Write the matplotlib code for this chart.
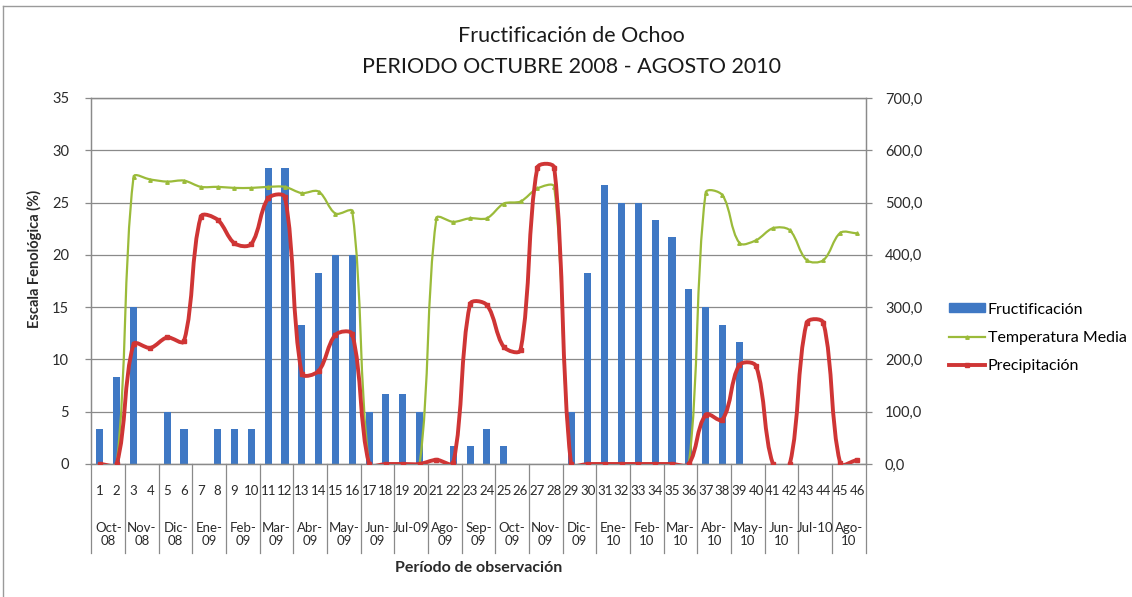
import numpy as np
import matplotlib
matplotlib.use("Agg")
import matplotlib.pyplot as plt
from matplotlib.path import Path
from matplotlib.patches import PathPatch
from matplotlib.lines import Line2D

plt.rcParams['font.family'] = ['Lato', 'DejaVu Sans']

# data
periods = list(range(1, 47))
months = ["Oct-\n08", "Nov-\n08", "Dic-\n08", "Ene-\n09", "Feb-\n09", "Mar-\n09",
          "Abr-\n09", "May-\n09", "Jun-\n09", "Jul-09", "Ago-\n09", "Sep-\n09",
          "Oct-\n09", "Nov-\n09", "Dic-\n09", "Ene-\n10", "Feb-\n10", "Mar-\n10",
          "Abr-\n10", "May-\n10", "Jun-\n10", "Jul-10", "Ago-\n10"]

fructificacion = [3.3, 8.3, 15, 0, 5, 3.3, 0, 3.3, 3.3, 3.3,
                  28.3, 28.3, 13.3, 18.3, 20, 20, 5, 6.7, 6.7, 5,
                  0, 1.7, 1.7, 3.3, 1.7, 0, 0, 0, 5, 18.3,
                  26.7, 25, 25, 23.3, 21.7, 16.7, 15, 13.3, 11.7, 0,
                  0, 0, 0, 0, 0, 0]

temperatura = [0, 0, 549, 544, 540, 542, 530, 530, 528, 528,
               530, 530, 518, 521, 479, 483, 0, 0, 0, 0,
               470, 463, 470, 470, 498, 502, 527, 530, 0, 0,
               0, 0, 0, 0, 0, 0, 519, 514, 423, 428,
               451, 447, 390, 390, 442, 441]

precipitacion = [0, 0, 229, 222, 242, 235, 473, 467, 422, 421,
                 508, 510, 173, 178, 247, 248, 0, 0, 0, 0,
                 8, 2, 306, 304, 224, 218, 567, 567, 0, 0,
                 0, 0, 0, 0, 0, 0, 94, 85, 189, 187,
                 0, 0, 270, 270, 1, 8]

left_ticks = [0, 5, 10, 15, 20, 25, 30, 35]
right_ticks = [0, 100, 200, 300, 400, 500, 600, 700]

BLUE = '#3f78c4'
GREEN = '#9bbb3a'
RED = '#cf3535'
GRID = '#8a8a8a'
TXT = '#2a2a2a'


def smooth_path(axis, xs, ys, s=0.3):
    # excel-like smoothed line, control points worked out in screen space
    tr = axis.transData
    pts = tr.transform(np.column_stack([xs, ys]).astype(float))
    n = len(pts)
    verts = [pts[0]]
    codes = [Path.MOVETO]

    def tangent(i):
        a = pts[max(i - 1, 0)]
        b = pts[min(i + 1, n - 1)]
        d = b - a
        ln = np.hypot(*d)
        return d / ln if ln > 0 else d

    for i in range(n - 1):
        p1, p2 = pts[i], pts[i + 1]
        seg = np.hypot(*(p2 - p1))
        c1 = p1 + tangent(i) * seg * s
        c2 = p2 - tangent(i + 1) * seg * s
        verts += [c1, c2, p2]
        codes += [Path.CURVE4] * 3
    verts = tr.inverted().transform(np.array(verts))
    return Path(verts, codes)


fig = plt.figure(figsize=(11.32, 5.97), dpi=100)
ax = fig.add_axes([0.0808, 0.2228, 0.6838, 0.6131])

x = np.array(periods)
ax.bar(x, fructificacion, width=0.42, color=BLUE, zorder=2)
ax.set_xlim(0.5, 46.5)
ax.set_ylim(0, 35)
ax.set_yticks(left_ticks)
ax.set_yticklabels([str(t) for t in left_ticks], fontsize=10.5, color=TXT)
ax.grid(axis='y', color=GRID, linewidth=0.9, zorder=0)
ax.set_axisbelow(True)
ax.set_xticks(x)
ax.set_xticklabels([str(p) for p in periods], fontsize=9.5, color=TXT)
ax.tick_params(axis='x', length=0, pad=15)
ax.tick_params(axis='y', length=4, color=GRID, width=0.9, pad=12)
for s in ax.spines.values():
    s.set_color(GRID)
    s.set_linewidth(0.9)
ax.set_ylabel("Escala Fenológica (%)", fontsize=10.5, fontweight='bold', color=TXT)
ax.yaxis.set_label_coords(-0.064, 0.56)

ax2 = ax.twinx()
ax2.set_ylim(0, 700)
ax2.set_xlim(0.5, 46.5)
ax2.set_yticks(right_ticks)
ax2.set_yticklabels([f"{t:.1f}".replace('.', ',') for t in right_ticks], fontsize=10.5, color=TXT)
ax2.tick_params(axis='y', length=4, color=GRID, width=0.9, pad=10)
for s in ax2.spines.values():
    s.set_color(GRID)
    s.set_linewidth(0.9)

ax2.add_patch(PathPatch(smooth_path(ax2, x, temperatura), facecolor='none',
                        edgecolor=GREEN, linewidth=1.6, zorder=3))
ax2.plot(x, temperatura, linestyle='none', marker='^', markersize=2.5, color=GREEN, zorder=3)
ax2.add_patch(PathPatch(smooth_path(ax2, x, precipitacion), facecolor='none',
                        edgecolor=RED, linewidth=2.8, zorder=4, capstyle='round'))
ax2.plot(x, precipitacion, linestyle='none', marker='s', markersize=3.2, color=RED, zorder=4)

# multi-level category axis: separators and month labels
trans = ax.get_xaxis_transform()
for k in range(len(months) + 1):
    xb = 0.5 + 2 * k
    ax.plot([xb, xb], [0, -0.243], transform=trans, color=GRID, linewidth=0.9, clip_on=False)
for k, m in enumerate(months):
    ax.text(1.5 + 2 * k, -0.158, m, transform=trans, ha='center', va='top',
            fontsize=9.5, color=TXT, linespacing=1.15)

ax.set_xlabel("Período de observación", fontsize=11.5, fontweight='bold', color=TXT, labelpad=46)

fig.text(0.505, 0.94, "Fructificación de Ochoo", ha='center', va='center', fontsize=15.5, color='#1a1a1a')
fig.text(0.505, 0.888, "PERIODO OCTUBRE 2008 - AGOSTO 2010", ha='center', va='center', fontsize=15.5, color='#1a1a1a')

handles = [plt.Rectangle((0, 0), 1, 1, color=BLUE),
           Line2D([0], [0], color=GREEN, linewidth=1.6, marker='^', markersize=2.5),
           Line2D([0], [0], color=RED, linewidth=2.8, marker='s', markersize=3.2)]
fig.legend(handles, ["Fructificación", "Temperatura Media", "Precipitación"],
           loc='center left', bbox_to_anchor=(0.826, 0.434), frameon=False,
           fontsize=11.5, handlelength=2.2, handleheight=0.5, handletextpad=0.2,
           labelspacing=0.9)

# light outer chart border (top and left visible)
fig.add_artist(Line2D([3 / 1132, 1], [1 - 6 / 597, 1 - 6 / 597], transform=fig.transFigure, color='#9a9a9a', linewidth=1))
fig.add_artist(Line2D([3 / 1132, 3 / 1132], [0, 1 - 6 / 597], transform=fig.transFigure, color='#9a9a9a', linewidth=1))

fig.savefig("out.png", dpi=100)
